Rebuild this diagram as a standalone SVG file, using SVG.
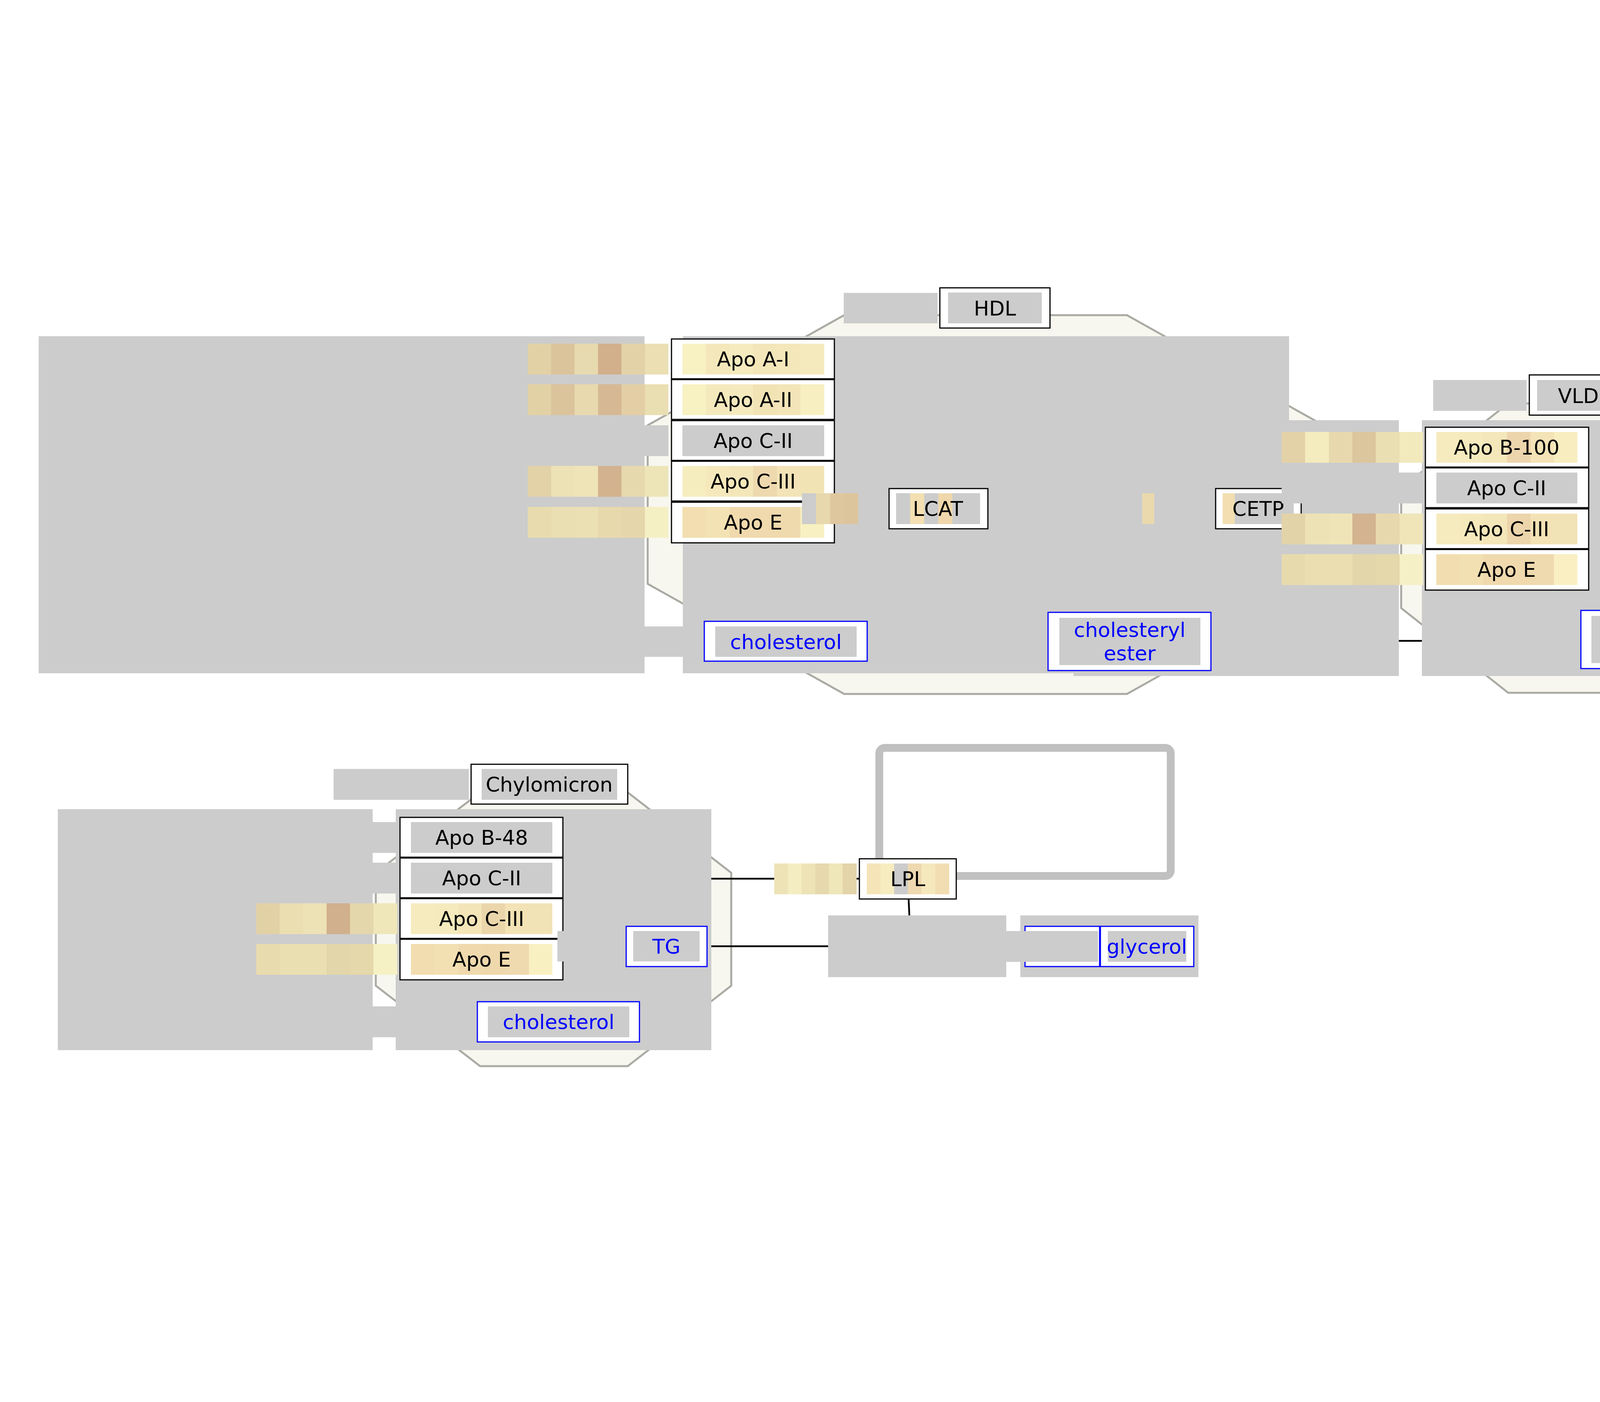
<svg xmlns="http://www.w3.org/2000/svg" width="6740" height="3590" viewBox="0 0 6740 3590">
<defs>
<style>
.oct{fill:#f7f7ef;stroke:#aaaaa4;stroke-width:5}
.g{fill:#cccccc}
.bx{fill:#ffffff;stroke:#000000;stroke-width:3}
.mb{fill:#ffffff;stroke:#0000ff;stroke-width:3}
.t{font-family:"DejaVu Sans","Noto Sans",sans-serif;font-size:52px;text-anchor:middle;fill:#000000}
.tb{font-family:"DejaVu Sans","Noto Sans",sans-serif;font-size:52px;text-anchor:middle;fill:#0000ff}
.ln{fill:none;stroke:#000000;stroke-width:4.5}
.frame{fill:none;stroke:#c0c0c0;stroke-width:20}
</style>
<marker id="arr" markerUnits="userSpaceOnUse" markerWidth="68" markerHeight="38" viewBox="0 0 68 38" refX="68" refY="19" orient="auto"><path d="M0,0 L68,19 L0,38 z" fill="#000000"/></marker>
</defs>
<rect width="6740" height="3590" fill="#ffffff"/>

<g id="compartments">
<polygon id="hdl-shape" class="oct" points="2161,807 2885,807 3388,1089 3388,1495 2885,1777 2161,1777 1658,1495 1658,1089"/>
<polygon id="vldl-shape" class="oct" points="3861,1033 4250,1033 4524,1250 4524,1557 4250,1774 3861,1774 3587,1557 3587,1250"/>
<polygon id="idl-shape" class="oct" points="4856,1183 5084,1183 5240,1247 5240,1343 5084,1411 4856,1411 4700,1343 4700,1247"/>
<polygon id="ldl-shape" class="oct" points="5592,1194 5812,1194 5974,1261 5974,1358 5812,1420 5592,1420 5430,1358 5430,1261"/>
<polygon id="oxldl-shape" class="oct" points="5592,1885 5812,1885 5974,1951 5974,2046 5812,2112 5592,2112 5430,2046 5430,1951"/>
<polygon id="chylo-shape" class="oct" points="1229,2029 1607,2029 1872,2235 1872,2524 1607,2730 1229,2730 962,2524 962,2235"/>
<rect id="frame" class="frame" x="2251" y="1915" width="746" height="328" rx="14"/>
</g>

<g id="connectors">
<line class="ln" x1="3300" y1="1641" x2="3640" y2="1641"/>
<line class="ln" x1="1821" y1="2250" x2="2199" y2="2250" marker-end="url(#arr)"/>
<line class="ln" x1="1821" y1="2423" x2="2120" y2="2423"/>
<line class="ln" x1="2326" y1="2302" x2="2328" y2="2344"/>
<line class="ln" x1="6237" y1="925" x2="6237" y2="1244" marker-end="url(#arr)"/>
<line class="ln" x1="5703" y1="1420" x2="5703" y2="1529"/>
<line class="ln" x1="5703" y1="1686" x2="5703" y2="1881" marker-end="url(#arr)"/>
<line class="ln" x1="5781" y1="1606" x2="6128" y2="1606"/>
</g>

<g id="group-areas">
<rect id="hdl-bar" class="g" x="99" y="861" width="1551" height="863"/>
<rect id="hdl-area" class="g" x="1748" y="861" width="1552" height="863"/>
<rect id="vldl-bar" class="g" x="2748" y="1076" width="833" height="655"/>
<rect id="vldl-area" class="g" x="3640" y="1076" width="832" height="655"/>
<rect id="idl-bar" class="g" x="4218" y="1201" width="475" height="192"/>
<rect id="idl-area" class="g" x="4734" y="1201" width="475" height="192"/>
<rect id="ldl-bar" class="g" x="4950" y="1211" width="475" height="192"/>
<rect id="ldl-area" class="g" x="5465" y="1211" width="475" height="192"/>
<rect id="oxldl-bar" class="g" x="4950" y="1903" width="475" height="190"/>
<rect id="oxldl-area" class="g" x="5465" y="1903" width="475" height="190"/>
<rect id="chylo-bar" class="g" x="148" y="2072" width="806" height="617"/>
<rect id="chylo-area" class="g" x="1013" y="2072" width="808" height="617"/>
<rect id="prod-bar" class="g" x="2120" y="2344" width="456" height="158"/>
<rect id="prod-area" class="g" x="2612" y="2344" width="456" height="158"/>
</g>

<g id="hdl-label">
<rect class="g" x="2160" y="750" width="240" height="78"/>
<rect class="bx" x="2406" y="737" width="282" height="103"/>
<rect class="g" x="2427" y="749" width="240" height="79"/>
<text class="t" x="2547" y="808">HDL</text>
</g>

<g id="hdl-apoa1">
<rect x="1351" y="880" width="61" height="79" fill="#e3d1a6"/><rect x="1411" y="880" width="61" height="79" fill="#dbc49c"/><rect x="1471" y="880" width="61" height="79" fill="#e8dab0"/><rect x="1531" y="880" width="61" height="79" fill="#d1b08b"/><rect x="1591" y="880" width="61" height="79" fill="#e3d2a8"/><rect x="1651" y="880" width="60" height="79" fill="#ebdfb3"/>
<rect class="bx" x="1719" y="868" width="417" height="102"/>
<rect x="1747" y="880" width="61" height="79" fill="#f8f2c3"/><rect x="1807" y="880" width="61" height="79" fill="#f4e8bb"/><rect x="1868" y="880" width="61" height="79" fill="#f5ebbe"/><rect x="1928" y="880" width="61" height="79" fill="#f3e6b9"/><rect x="1989" y="880" width="61" height="79" fill="#f4e7ba"/><rect x="2049" y="880" width="61" height="79" fill="#f5eabd"/>
<text class="t" x="1928" y="938">Apo A-I</text>
</g>
<g id="hdl-apoa2">
<rect x="1351" y="984" width="61" height="79" fill="#e3d1a6"/><rect x="1411" y="984" width="61" height="79" fill="#dbc39c"/><rect x="1471" y="984" width="61" height="79" fill="#e8d9af"/><rect x="1531" y="984" width="61" height="79" fill="#d6b994"/><rect x="1591" y="984" width="61" height="79" fill="#e3cea6"/><rect x="1651" y="984" width="60" height="79" fill="#eadfb3"/>
<rect class="bx" x="1719" y="972" width="417" height="102"/>
<rect x="1747" y="984" width="61" height="79" fill="#f8f2c3"/><rect x="1807" y="984" width="61" height="79" fill="#f4e9bc"/><rect x="1868" y="984" width="61" height="79" fill="#f5eabe"/><rect x="1928" y="984" width="61" height="79" fill="#f2e3b5"/><rect x="1989" y="984" width="61" height="79" fill="#f3e5b8"/><rect x="2049" y="984" width="61" height="79" fill="#f7efc2"/>
<text class="t" x="1928" y="1042">Apo A-II</text>
</g>
<g id="hdl-apoc2">
<rect class="g" x="1351" y="1089" width="360" height="79"/>
<rect class="bx" x="1719" y="1077" width="417" height="102"/>
<rect class="g" x="1747" y="1089" width="363" height="79"/>
<text class="t" x="1928" y="1147">Apo C-II</text>
</g>
<g id="hdl-apoc3">
<rect x="1351" y="1193" width="61" height="79" fill="#e3d2a8"/><rect x="1411" y="1193" width="61" height="79" fill="#ece2b6"/><rect x="1471" y="1193" width="61" height="79" fill="#efe4b7"/><rect x="1531" y="1193" width="61" height="79" fill="#d3b38f"/><rect x="1591" y="1193" width="61" height="79" fill="#e6d9ad"/><rect x="1651" y="1193" width="60" height="79" fill="#ede5b8"/>
<rect class="bx" x="1719" y="1181" width="417" height="102"/>
<rect x="1747" y="1193" width="61" height="79" fill="#f6edbf"/><rect x="1807" y="1193" width="61" height="79" fill="#f5e9bc"/><rect x="1868" y="1193" width="61" height="79" fill="#f3e7ba"/><rect x="1928" y="1193" width="61" height="79" fill="#eed9ae"/><rect x="1989" y="1193" width="61" height="79" fill="#f3e3b6"/><rect x="2049" y="1193" width="61" height="79" fill="#f2e3b5"/>
<text class="t" x="1928" y="1251">Apo C-III</text>
</g>
<g id="hdl-apoe">
<rect x="1351" y="1298" width="61" height="79" fill="#e8dcae"/><rect x="1411" y="1298" width="61" height="79" fill="#eadfb2"/><rect x="1471" y="1298" width="61" height="79" fill="#ebe0b3"/><rect x="1531" y="1298" width="61" height="79" fill="#e7d9ac"/><rect x="1591" y="1298" width="61" height="79" fill="#e5d7ab"/><rect x="1651" y="1298" width="60" height="79" fill="#f5f0c4"/>
<rect class="bx" x="1719" y="1286" width="417" height="104"/>
<rect x="1747" y="1298" width="61" height="79" fill="#f2deb0"/><rect x="1807" y="1298" width="61" height="79" fill="#f3e2b4"/><rect x="1868" y="1298" width="61" height="79" fill="#f0d9ad"/><rect x="1928" y="1298" width="61" height="79" fill="#efd9ad"/><rect x="1989" y="1298" width="61" height="79" fill="#efdaae"/><rect x="2049" y="1298" width="61" height="79" fill="#f8f0c1"/>
<text class="t" x="1928" y="1356">Apo E</text>
</g>

<g id="lcat">
<rect class="g" x="2053" y="1263" width="37" height="79"/><rect x="2089" y="1263" width="37" height="79" fill="#e8d8ae"/><rect x="2125" y="1263" width="37" height="79" fill="#dec79e"/><rect x="2161" y="1263" width="37" height="79" fill="#dcc59c"/><rect class="g" x="2197" y="1263" width="72" height="79"/>
<rect class="bx" x="2276" y="1251" width="253" height="103"/>
<rect class="g" x="2294" y="1263" width="215" height="79"/><rect x="2330" y="1263" width="36" height="79" fill="#f3dfb1"/><rect x="2402" y="1263" width="36" height="79" fill="#efd7ab"/>
<text class="t" x="2401" y="1321">LCAT</text>
</g>
<g id="cetp">
<rect class="g" x="2924" y="1263" width="182" height="79"/><rect x="2924" y="1263" width="31" height="79" fill="#e9d9ad"/>
<rect class="bx" x="3112" y="1251" width="219" height="103"/>
<rect class="g" x="3130" y="1263" width="182" height="79"/><rect x="3130" y="1263" width="31" height="79" fill="#f2deb0"/>
<text class="t" x="3221" y="1321">CETP</text>
</g>
<g id="hdl-cholesterol">
<rect class="g" x="1435" y="1604" width="362" height="78"/>
<rect class="mb" x="1803" y="1591" width="417" height="102"/>
<rect class="g" x="1831" y="1604" width="362" height="78"/>
<text class="tb" x="2012" y="1662">cholesterol</text>
</g>
<g id="hdl-cholesteryl-ester">
<rect class="mb" x="2683" y="1568" width="417" height="149"/>
<rect class="g" x="2712" y="1582" width="361" height="121"/>
<text class="tb" x="2892" y="1631">cholesteryl</text>
<text class="tb" x="2892" y="1691">ester</text>
</g>

<g id="vldl-label">
<rect class="g" x="3669" y="973" width="239" height="79"/>
<rect class="bx" x="3915" y="960" width="280" height="103"/>
<rect class="g" x="3935" y="973" width="240" height="79"/>
<text class="t" x="4055" y="1032">VLDL</text>
</g>
<g id="vldl-apob100">
<rect x="3281" y="1106" width="61" height="79" fill="#e3d2a8"/><rect x="3341" y="1106" width="61" height="79" fill="#f4ebbf"/><rect x="3402" y="1106" width="61" height="79" fill="#e7d9ad"/><rect x="3462" y="1106" width="61" height="79" fill="#dcc69d"/><rect x="3522" y="1106" width="61" height="79" fill="#eadfb3"/><rect x="3583" y="1106" width="60" height="79" fill="#f2eabd"/>
<rect class="bx" x="3649" y="1094" width="418" height="102"/>
<rect x="3677" y="1106" width="61" height="79" fill="#f6ebbf"/><rect x="3737" y="1106" width="61" height="79" fill="#f5eabd"/><rect x="3797" y="1106" width="61" height="79" fill="#f4e7ba"/><rect x="3858" y="1106" width="61" height="79" fill="#ecd4ac"/><rect x="3918" y="1106" width="61" height="79" fill="#f3e3b6"/><rect x="3978" y="1106" width="60" height="79" fill="#f7edbf"/>
<text class="t" x="3857" y="1164">Apo B-100</text>
</g>
<g id="vldl-apoc2">
<rect class="g" x="3281" y="1210" width="362" height="79"/>
<rect class="bx" x="3649" y="1198" width="418" height="102"/>
<rect class="g" x="3677" y="1210" width="361" height="79"/>
<text class="t" x="3857" y="1268">Apo C-II</text>
</g>
<g id="vldl-apoc3">
<rect x="3281" y="1315" width="61" height="79" fill="#e3d3a8"/><rect x="3341" y="1315" width="61" height="79" fill="#ede2b5"/><rect x="3402" y="1315" width="61" height="79" fill="#efe4b7"/><rect x="3462" y="1315" width="61" height="79" fill="#d3b390"/><rect x="3522" y="1315" width="61" height="79" fill="#e7d9ad"/><rect x="3583" y="1315" width="60" height="79" fill="#efe5b8"/>
<rect class="bx" x="3649" y="1303" width="418" height="102"/>
<rect x="3677" y="1315" width="61" height="79" fill="#f6ebbe"/><rect x="3737" y="1315" width="61" height="79" fill="#f5e9bc"/><rect x="3797" y="1315" width="61" height="79" fill="#f3e6b9"/><rect x="3858" y="1315" width="61" height="79" fill="#ecd5ab"/><rect x="3918" y="1315" width="61" height="79" fill="#f3e2b5"/><rect x="3978" y="1315" width="60" height="79" fill="#f2e3b6"/>
<text class="t" x="3857" y="1373">Apo C-III</text>
</g>
<g id="vldl-apoe">
<rect x="3281" y="1419" width="61" height="79" fill="#e7daad"/><rect x="3341" y="1419" width="61" height="79" fill="#ebdfb2"/><rect x="3402" y="1419" width="61" height="79" fill="#ebdfb2"/><rect x="3462" y="1419" width="61" height="79" fill="#e3d6aa"/><rect x="3522" y="1419" width="61" height="79" fill="#e5d8ab"/><rect x="3583" y="1419" width="60" height="79" fill="#f5f0c5"/>
<rect class="bx" x="3649" y="1407" width="418" height="104"/>
<rect x="3677" y="1419" width="61" height="79" fill="#f2ddb0"/><rect x="3737" y="1419" width="61" height="79" fill="#f2dfb2"/><rect x="3797" y="1419" width="61" height="79" fill="#efd9ad"/><rect x="3858" y="1419" width="61" height="79" fill="#efd9ad"/><rect x="3918" y="1419" width="61" height="79" fill="#efd9ae"/><rect x="3978" y="1419" width="60" height="79" fill="#f9efc2"/>
<text class="t" x="3857" y="1477">Apo E</text>
</g>
<g id="vldl-tg">
<rect class="mb" x="4174" y="1382" width="208" height="102"/>
<rect class="g" x="4191" y="1394" width="174" height="79"/>
<text class="tb" x="4278" y="1452">TG</text>
</g>
<g id="vldl-cholesteryl-ester">
<rect class="mb" x="4047" y="1563" width="416" height="149"/>
<rect class="g" x="4074" y="1577" width="362" height="121"/>
<text class="tb" x="4255" y="1626">cholesteryl</text>
<text class="tb" x="4255" y="1686">ester</text>
</g>

<g id="idl-aka">
<rect class="g" x="4559" y="999" width="259" height="83"/>
<rect class="g" x="4843" y="999" width="257" height="83"/>
<text class="t" x="4971" y="1059">aka LDL1</text>
</g>
<g id="idl-label">
<rect class="g" x="4656" y="1106" width="187" height="79"/>
<rect class="bx" x="4850" y="1093" width="223" height="104"/>
<rect class="g" x="4868" y="1106" width="187" height="79"/>
<text class="t" x="4961" y="1164">IDL</text>
</g>
<g id="idl-cholesterol">
<rect class="g" x="4394" y="1257" width="362" height="80"/>
<rect class="mb" x="4762" y="1245" width="417" height="103"/>
<rect class="g" x="4790" y="1257" width="362" height="80"/>
<text class="tb" x="4971" y="1316">cholesterol</text>
</g>

<g id="ldl-aka">
<rect class="g" x="5298" y="1014" width="258" height="83"/>
<rect class="g" x="5582" y="1014" width="257" height="83"/>
<text class="t" x="5710" y="1074">aka LDL2</text>
</g>
<g id="ldl-label">
<rect class="g" x="5419" y="1122" width="174" height="79"/>
<rect class="bx" x="5599" y="1110" width="207" height="102"/>
<rect class="g" x="5616" y="1122" width="174" height="79"/>
<text class="t" x="5703" y="1180">LDL</text>
</g>
<g id="ldl-cholesterol">
<rect class="g" x="5126" y="1268" width="362" height="78"/>
<rect class="mb" x="5494" y="1256" width="418" height="102"/>
<rect class="g" x="5522" y="1268" width="362" height="78"/>
<text class="tb" x="5703" y="1326">cholesterol</text>
</g>

<g id="oxldl-label">
<rect class="g" x="5419" y="2096" width="174" height="78"/>
<rect class="bx" x="5599" y="2084" width="207" height="102"/>
<rect class="g" x="5616" y="2096" width="174" height="78"/>
<text class="t" x="5703" y="2154">oxLDL</text>
</g>
<g id="oxldl-cholesterol">
<rect class="g" x="5126" y="1959" width="362" height="79"/>
<rect class="mb" x="5494" y="1947" width="418" height="102"/>
<rect class="g" x="5522" y="1959" width="362" height="79"/>
<text class="tb" x="5703" y="2017">cholesterol</text>
</g>

<g id="oxidation-anchor">
<rect class="g" x="5538" y="1529" width="243" height="157"/>
</g>
<g id="ros">
<rect class="g" x="5958" y="1568" width="165" height="78"/>
<rect class="mb" x="6128" y="1555" width="196" height="102"/>
<rect class="g" x="6145" y="1568" width="164" height="78"/>
<text class="tb" x="6227" y="1626">ROS</text>
</g>
<g id="apoe-free">
<rect x="5897" y="835" width="35" height="79" fill="#e8dbae"/><rect x="5931" y="835" width="35" height="79" fill="#eadeb1"/><rect x="5966" y="835" width="35" height="79" fill="#eadfb1"/><rect x="6000" y="835" width="35" height="79" fill="#e3d6aa"/><rect x="6035" y="835" width="35" height="79" fill="#e5d8ab"/><rect x="6069" y="835" width="35" height="79" fill="#f5f0c5"/>
<rect class="bx" x="6113" y="822" width="249" height="103"/>
<rect x="6132" y="835" width="36" height="79" fill="#f2e0b3"/><rect x="6167" y="835" width="36" height="79" fill="#f2deb1"/><rect x="6202" y="835" width="36" height="79" fill="#eed7ab"/><rect x="6237" y="835" width="36" height="79" fill="#efd9ad"/><rect x="6272" y="835" width="36" height="79" fill="#efd9ad"/><rect x="6307" y="835" width="36" height="79" fill="#f8f0c2"/>
<text class="t" x="6237" y="894">Apo E</text>
</g>
<g id="ldlr">
<rect class="g" x="5953" y="1263" width="30" height="78"/><rect x="5982" y="1263" width="30" height="78" fill="#ecdcae"/><rect x="6011" y="1263" width="30" height="78" fill="#eadaae"/><rect x="6040" y="1263" width="30" height="78" fill="#e7d6aa"/><rect x="6069" y="1263" width="30" height="78" fill="#f4eec3"/><rect class="g" x="6098" y="1263" width="29" height="78"/>
<rect class="bx" x="6133" y="1251" width="208" height="102"/>
<rect class="g" x="6150" y="1263" width="30" height="78"/><rect x="6179" y="1263" width="30" height="78" fill="#f2e0b2"/><rect x="6208" y="1263" width="30" height="78" fill="#f1dbaf"/><rect x="6237" y="1263" width="30" height="78" fill="#ecd0a7"/><rect x="6266" y="1263" width="30" height="78" fill="#f2deb0"/><rect class="g" x="6295" y="1263" width="29" height="78"/>
<text class="t" x="6237" y="1321">LDLR</text>
</g>

<g id="chylo-label">
<rect class="g" x="854" y="1969" width="346" height="79"/>
<rect class="bx" x="1206" y="1957" width="401" height="102"/>
<rect class="g" x="1233" y="1969" width="347" height="79"/>
<text class="t" x="1406" y="2027">Chylomicron</text>
</g>
<g id="chylo-apob48">
<rect class="g" x="656" y="2105" width="361" height="79"/>
<rect class="bx" x="1024" y="2093" width="417" height="102"/>
<rect class="g" x="1052" y="2105" width="362" height="79"/>
<text class="t" x="1233" y="2163">Apo B-48</text>
</g>
<g id="chylo-apoc2">
<rect class="g" x="656" y="2209" width="361" height="79"/>
<rect class="bx" x="1024" y="2197" width="417" height="102"/>
<rect class="g" x="1052" y="2209" width="362" height="79"/>
<text class="t" x="1233" y="2267">Apo C-II</text>
</g>
<g id="chylo-apoc3">
<rect x="656" y="2313" width="61" height="79" fill="#e3d1a6"/><rect x="716" y="2313" width="61" height="79" fill="#ebdfb2"/><rect x="776" y="2313" width="61" height="79" fill="#ede2b5"/><rect x="836" y="2313" width="61" height="79" fill="#d1b08d"/><rect x="896" y="2313" width="61" height="79" fill="#e4d7ab"/><rect x="956" y="2313" width="61" height="79" fill="#efe6b9"/>
<rect class="bx" x="1024" y="2301" width="417" height="102"/>
<rect x="1052" y="2313" width="61" height="79" fill="#f6ebbe"/><rect x="1112" y="2313" width="61" height="79" fill="#f5eabd"/><rect x="1173" y="2313" width="61" height="79" fill="#f3e5b8"/><rect x="1233" y="2313" width="61" height="79" fill="#ebd6ab"/><rect x="1293" y="2313" width="61" height="79" fill="#f2e2b5"/><rect x="1354" y="2313" width="60" height="79" fill="#f2e3b6"/>
<text class="t" x="1233" y="2371">Apo C-III</text>
</g>
<g id="chylo-apoe">
<rect x="656" y="2417" width="61" height="79" fill="#e8dbae"/><rect x="716" y="2417" width="61" height="79" fill="#eadfb1"/><rect x="776" y="2417" width="61" height="79" fill="#eadfb1"/><rect x="836" y="2417" width="61" height="79" fill="#e3d6aa"/><rect x="896" y="2417" width="61" height="79" fill="#e5d8ab"/><rect x="956" y="2417" width="61" height="79" fill="#f5f1c5"/>
<rect class="bx" x="1024" y="2405" width="417" height="104"/>
<rect x="1052" y="2417" width="61" height="79" fill="#f2ddb0"/><rect x="1112" y="2417" width="61" height="79" fill="#f2dfb2"/><rect x="1173" y="2417" width="61" height="79" fill="#efd9ad"/><rect x="1233" y="2417" width="61" height="79" fill="#efd8ac"/><rect x="1293" y="2417" width="61" height="79" fill="#efd9ae"/><rect x="1354" y="2417" width="60" height="79" fill="#f9f0c2"/>
<text class="t" x="1233" y="2475">Apo E</text>
</g>
<g id="chylo-tg">
<rect class="g" x="1427" y="2384" width="170" height="78"/>
<rect class="mb" x="1603" y="2372" width="207" height="103"/>
<rect class="g" x="1621" y="2384" width="170" height="78"/>
<text class="tb" x="1706" y="2442">TG</text>
</g>
<g id="chylo-cholesterol">
<rect class="g" x="855" y="2577" width="361" height="79"/>
<rect class="mb" x="1222" y="2565" width="415" height="103"/>
<rect class="g" x="1249" y="2577" width="362" height="79"/>
<text class="tb" x="1430" y="2635">cholesterol</text>
</g>

<g id="lpl">
<rect x="1982" y="2211" width="36" height="79" fill="#eee3b7"/><rect x="2017" y="2211" width="36" height="79" fill="#f5edc2"/><rect x="2052" y="2211" width="36" height="79" fill="#ede3b7"/><rect x="2087" y="2211" width="36" height="79" fill="#e6d9ad"/><rect x="2122" y="2211" width="36" height="79" fill="#efe6b9"/><rect x="2157" y="2211" width="36" height="79" fill="#e3d4a9"/>
<rect class="bx" x="2200" y="2199" width="248" height="103"/>
<rect x="2219" y="2211" width="36" height="79" fill="#f5e4b8"/><rect x="2254" y="2211" width="36" height="79" fill="#f6ecc0"/><rect class="g" x="2289" y="2211" width="36" height="79"/><rect x="2324" y="2211" width="36" height="79" fill="#eed8b0"/><rect x="2359" y="2211" width="36" height="79" fill="#f6e8bd"/><rect x="2394" y="2211" width="36" height="79" fill="#f2ddb2"/>
<text class="t" x="2324" y="2269">LPL</text>
</g>
<g id="unlabelled-product">
<rect class="mb" x="2624" y="2372" width="191" height="103"/>
</g>
<g id="glycerol">
<rect class="g" x="2560" y="2384" width="251" height="79"/>
<rect class="mb" x="2817" y="2372" width="239" height="103"/>
<rect class="g" x="2836" y="2384" width="201" height="79"/>
<text class="tb" x="2936" y="2442">glycerol</text>
</g>
</svg>
